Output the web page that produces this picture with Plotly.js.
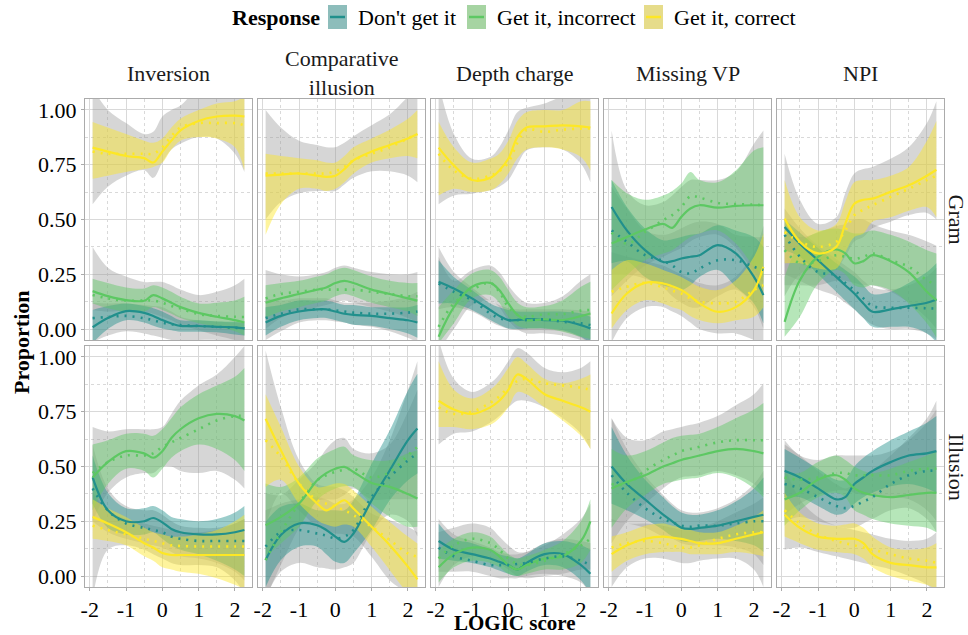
<!DOCTYPE html>
<html>
<head>
<meta charset="utf-8">
<script src="https://cdn.plot.ly/plotly-3.0.1.min.js"></script>
<style>
  html, body { margin: 0; padding: 0; background: #fff; }
  #chart { width: 968px; height: 635px; }
</style>
</head>
<body>
<div id="chart"></div>
<script>
// LOGIC score grid shared by every curve
const X = [-1.92, -1.5, -1, -0.5, -0.25, 0, 0.25, 0.5, 1, 1.5, 2, 2.26];

const RESPONSES = ["Don't get it", "Get it, incorrect", "Get it, correct"];
const CONSTRUCTIONS = ["Inversion", "Comparative<br>illusion", "Depth charge", "Missing VP", "NPI"];
const CONDITIONS = ["Gram", "Illusion"];
const X_TICKS = [-2, -1, 0, 1, 2];
const X_TICK_TEXT = ["-2", "-1", "0", "1", "2"];
const Y_TICKS = [0, 0.25, 0.5, 0.75, 1];
const Y_TICK_TEXT = ["0.00", "0.25", "0.50", "0.75", "1.00"];

// fit = model curve, lo/hi = model band, dot = smoothed observed, glo/ghi = its band
// ---- Gram ----
const gramInvDont = {
  fit: [0.008, 0.05, 0.082, 0.074, 0.06, 0.041, 0.025, 0.014, 0.014, 0.01, 0.008, 0.003],
  dot: [0.05, 0.055, 0.06, 0.049, 0.04, 0.029, 0.022, 0.018, 0.014, 0.01, 0.006, 0.003],
  hi:  [0.087, 0.105, 0.117, 0.105, 0.095, 0.08, 0.06, 0.04, 0.04, 0.035, 0.033, 0.026],
  lo:  [-0.065, 0.0, 0.04, 0.03, 0.015, 0.003, -0.005, -0.012, -0.012, -0.015, -0.025, -0.03],
  ghi: [0.12, 0.117, 0.117, 0.11, 0.105, 0.1, 0.08, 0.056, 0.04, 0.035, 0.03, 0.03],
  glo: [-0.06, -0.03, -0.01, -0.02, -0.03, -0.04, -0.05, -0.05, -0.05, -0.05, -0.06, -0.06]
};
const gramInvInc = {
  fit: [0.173, 0.15, 0.132, 0.129, 0.155, 0.14, 0.12, 0.10, 0.074, 0.056, 0.041, 0.03],
  dot: [0.155, 0.14, 0.13, 0.13, 0.13, 0.12, 0.105, 0.094, 0.068, 0.06, 0.056, 0.055],
  hi:  [0.23, 0.21, 0.19, 0.185, 0.2, 0.19, 0.17, 0.147, 0.117, 0.12, 0.13, 0.147],
  lo:  [0.117, 0.095, 0.079, 0.08, 0.10, 0.087, 0.07, 0.05, 0.026, 0.01, -0.01, -0.03],
  ghi: [0.375, 0.28, 0.24, 0.215, 0.215, 0.215, 0.2, 0.18, 0.155, 0.17, 0.2, 0.23],
  glo: [0.087, 0.08, 0.085, 0.08, 0.07, 0.056, 0.04, 0.02, -0.005, -0.03, -0.05, -0.06]
};
const gramInvCor = {
  fit: [0.828, 0.81, 0.79, 0.78, 0.76, 0.81, 0.86, 0.907, 0.95, 0.97, 0.974, 0.97],
  dot: [0.81, 0.80, 0.80, 0.80, 0.80, 0.83, 0.88, 0.92, 0.94, 0.94, 0.94, 0.93],
  hi:  [0.945, 0.92, 0.89, 0.86, 0.85, 0.87, 0.92, 0.96, 1.0, 1.03, 1.04, 1.06],
  lo:  [0.686, 0.70, 0.717, 0.73, 0.74, 0.76, 0.82, 0.86, 0.876, 0.87, 0.83, 0.724],
  ghi: [1.1, 1.0, 0.94, 0.89, 0.9, 0.97, 1.0, 1.02, 1.1, 1.12, 1.12, 1.12],
  glo: [0.57, 0.65, 0.70, 0.725, 0.69, 0.76, 0.82, 0.846, 0.876, 0.87, 0.80, 0.717]
};

const gramCompDont = {
  fit: [0.03, 0.06, 0.08, 0.09, 0.09, 0.08, 0.07, 0.065, 0.06, 0.05, 0.04, 0.03],
  dot: [0.05, 0.07, 0.09, 0.09, 0.09, 0.085, 0.08, 0.075, 0.07, 0.07, 0.075, 0.08],
  hi:  [0.10, 0.11, 0.13, 0.13, 0.13, 0.12, 0.11, 0.11, 0.10, 0.10, 0.10, 0.11],
  lo:  [-0.03, 0.01, 0.04, 0.05, 0.05, 0.04, 0.03, 0.02, 0.015, 0.0, -0.02, -0.04],
  ghi: [0.14, 0.13, 0.14, 0.14, 0.14, 0.13, 0.12, 0.12, 0.12, 0.13, 0.15, 0.17],
  glo: [-0.05, -0.01, 0.03, 0.04, 0.04, 0.035, 0.03, 0.02, 0.01, -0.01, -0.04, -0.06]
};
const gramCompInc = {
  fit: [0.12, 0.14, 0.16, 0.18, 0.19, 0.21, 0.22, 0.21, 0.18, 0.16, 0.14, 0.13],
  dot: [0.14, 0.16, 0.17, 0.18, 0.18, 0.18, 0.18, 0.18, 0.17, 0.16, 0.15, 0.15],
  hi:  [0.20, 0.21, 0.22, 0.24, 0.25, 0.27, 0.28, 0.27, 0.24, 0.22, 0.21, 0.21],
  lo:  [0.05, 0.08, 0.10, 0.12, 0.13, 0.15, 0.16, 0.15, 0.12, 0.10, 0.08, 0.06],
  ghi: [0.27, 0.25, 0.24, 0.25, 0.26, 0.28, 0.29, 0.28, 0.26, 0.25, 0.25, 0.26],
  glo: [0.0, 0.05, 0.08, 0.10, 0.11, 0.12, 0.13, 0.12, 0.10, 0.08, 0.05, 0.03]
};
const gramCompCor = {
  fit: [0.70, 0.705, 0.71, 0.70, 0.695, 0.70, 0.73, 0.77, 0.81, 0.84, 0.87, 0.89],
  dot: [0.71, 0.71, 0.71, 0.71, 0.71, 0.72, 0.74, 0.77, 0.80, 0.83, 0.87, 0.89],
  hi:  [0.80, 0.79, 0.78, 0.77, 0.76, 0.76, 0.79, 0.83, 0.87, 0.91, 0.96, 1.0],
  lo:  [0.43, 0.57, 0.64, 0.64, 0.63, 0.64, 0.67, 0.71, 0.76, 0.78, 0.79, 0.78],
  ghi: [1.0, 0.92, 0.86, 0.84, 0.83, 0.83, 0.85, 0.88, 0.93, 0.98, 1.06, 1.1],
  glo: [0.50, 0.58, 0.62, 0.63, 0.63, 0.63, 0.66, 0.69, 0.72, 0.72, 0.70, 0.67]
};

const gramDepthDont = {
  fit: [0.216, 0.185, 0.14, 0.087, 0.06, 0.041, 0.041, 0.045, 0.041, 0.038, 0.018, 0.003],
  dot: [0.208, 0.17, 0.132, 0.071, 0.05, 0.041, 0.041, 0.041, 0.044, 0.033, 0.026, 0.018],
  hi:  [0.314, 0.238, 0.178, 0.117, 0.1, 0.087, 0.08, 0.079, 0.079, 0.079, 0.071, 0.056],
  lo:  [0.117, 0.117, 0.087, 0.041, 0.02, 0.003, 0.0, 0.003, 0.003, -0.005, -0.035, -0.065],
  ghi: [0.375, 0.26, 0.19, 0.13, 0.11, 0.095, 0.09, 0.09, 0.09, 0.09, 0.085, 0.08],
  glo: [0.09, 0.1, 0.08, 0.035, 0.015, 0.0, -0.005, -0.005, -0.005, -0.01, -0.04, -0.07]
};
const gramDepthInc = {
  fit: [-0.035, 0.10, 0.193, 0.211, 0.178, 0.117, 0.064, 0.041, 0.044, 0.041, 0.059, 0.071],
  dot: [0.01, 0.117, 0.178, 0.211, 0.17, 0.10, 0.065, 0.056, 0.068, 0.068, 0.084, 0.087],
  hi:  [0.10, 0.178, 0.254, 0.27, 0.24, 0.178, 0.12, 0.10, 0.105, 0.132, 0.193, 0.216],
  lo:  [-0.065, 0.026, 0.14, 0.155, 0.12, 0.056, 0.015, 0.003, 0.003, -0.012, -0.035, -0.045],
  ghi: [0.33, 0.22, 0.27, 0.29, 0.26, 0.20, 0.15, 0.12, 0.12, 0.15, 0.22, 0.25],
  glo: [-0.1, 0.0, 0.11, 0.13, 0.10, 0.04, 0.0, -0.02, -0.02, -0.03, -0.05, -0.06]
};
const gramDepthCor = {
  fit: [0.828, 0.747, 0.68, 0.69, 0.724, 0.777, 0.876, 0.92, 0.925, 0.93, 0.925, 0.92],
  dot: [0.80, 0.724, 0.686, 0.70, 0.72, 0.76, 0.85, 0.91, 0.90, 0.91, 0.915, 0.915],
  hi:  [0.945, 0.83, 0.76, 0.777, 0.80, 0.86, 0.95, 0.99, 1.0, 1.0, 1.04, 1.04],
  lo:  [0.61, 0.64, 0.625, 0.633, 0.66, 0.71, 0.78, 0.82, 0.83, 0.82, 0.785, 0.724],
  ghi: [1.12, 0.89, 0.777, 0.785, 0.83, 0.906, 0.99, 1.01, 1.03, 1.06, 1.06, 1.06],
  glo: [0.57, 0.61, 0.618, 0.633, 0.65, 0.68, 0.75, 0.815, 0.83, 0.82, 0.755, 0.67]
};

const gramVpDont = {
  fit: [0.557, 0.45, 0.36, 0.306, 0.31, 0.322, 0.33, 0.337, 0.383, 0.345, 0.238, 0.155],
  dot: [0.45, 0.398, 0.337, 0.311, 0.29, 0.26, 0.254, 0.276, 0.314, 0.314, 0.284, 0.27],
  hi:  [0.68, 0.557, 0.459, 0.405, 0.41, 0.42, 0.43, 0.436, 0.474, 0.45, 0.42, 0.375],
  lo:  [0.3, 0.31, 0.238, 0.2, 0.19, 0.178, 0.2, 0.238, 0.27, 0.193, 0.117, 0.026],
  ghi: [0.65, 0.55, 0.45, 0.43, 0.44, 0.46, 0.48, 0.49, 0.48, 0.43, 0.42, 0.42],
  glo: [0.25, 0.25, 0.23, 0.19, 0.15, 0.12, 0.10, 0.10, 0.15, 0.18, 0.10, 0.0]
};
const gramVpInc = {
  fit: [0.39, 0.42, 0.454, 0.48, 0.462, 0.512, 0.55, 0.565, 0.554, 0.562, 0.565, 0.565],
  dot: [0.44, 0.39, 0.443, 0.497, 0.52, 0.557, 0.606, 0.60, 0.576, 0.57, 0.568, 0.565],
  hi:  [0.68, 0.62, 0.59, 0.61, 0.63, 0.664, 0.717, 0.68, 0.67, 0.724, 0.815, 0.83],
  lo:  [0.178, 0.246, 0.314, 0.345, 0.36, 0.39, 0.42, 0.436, 0.45, 0.39, 0.284, 0.238],
  ghi: [0.906, 0.633, 0.565, 0.58, 0.61, 0.648, 0.68, 0.68, 0.68, 0.717, 0.846, 0.906],
  glo: [0.15, 0.22, 0.29, 0.33, 0.35, 0.37, 0.40, 0.42, 0.43, 0.37, 0.26, 0.21]
};
const gramVpCor = {
  fit: [0.071, 0.162, 0.211, 0.208, 0.195, 0.178, 0.15, 0.117, 0.079, 0.10, 0.178, 0.284],
  dot: [0.17, 0.193, 0.211, 0.19, 0.175, 0.162, 0.14, 0.125, 0.117, 0.125, 0.178, 0.2],
  hi:  [0.27, 0.314, 0.3, 0.27, 0.255, 0.238, 0.215, 0.193, 0.178, 0.223, 0.33, 0.436],
  lo:  [0.003, 0.087, 0.132, 0.117, 0.1, 0.087, 0.06, 0.041, 0.026, 0.04, 0.056, 0.10],
  ghi: [0.35, 0.33, 0.31, 0.29, 0.27, 0.25, 0.23, 0.21, 0.2, 0.24, 0.35, 0.47],
  glo: [-0.06, 0.05, 0.10, 0.10, 0.08, 0.06, 0.03, 0.0, -0.02, -0.02, -0.05, -0.07]
};

const gramNpiDont = {
  fit: [0.466, 0.39, 0.314, 0.238, 0.2, 0.162, 0.117, 0.079, 0.09, 0.105, 0.12, 0.135],
  dot: [0.43, 0.33, 0.26, 0.246, 0.21, 0.178, 0.14, 0.105, 0.097, 0.097, 0.095, 0.093],
  hi:  [0.50, 0.44, 0.37, 0.30, 0.27, 0.24, 0.20, 0.16, 0.17, 0.21, 0.26, 0.30],
  lo:  [0.36, 0.33, 0.25, 0.17, 0.13, 0.09, 0.05, 0.01, 0.01, 0.01, -0.02, -0.06],
  ghi: [0.55, 0.46, 0.38, 0.32, 0.29, 0.26, 0.22, 0.19, 0.18, 0.2, 0.24, 0.28],
  glo: [0.25, 0.22, 0.18, 0.15, 0.12, 0.09, 0.05, 0.02, 0.0, 0.0, -0.02, -0.05]
};
const gramNpiInc = {
  fit: [0.033, 0.223, 0.33, 0.363, 0.345, 0.30, 0.31, 0.337, 0.31, 0.26, 0.17, 0.132],
  dot: [0.36, 0.30, 0.31, 0.337, 0.33, 0.32, 0.33, 0.345, 0.314, 0.284, 0.223, 0.2],
  hi:  [0.238, 0.39, 0.443, 0.459, 0.45, 0.436, 0.44, 0.45, 0.43, 0.40, 0.36, 0.345],
  lo:  [-0.035, 0.056, 0.208, 0.27, 0.25, 0.2, 0.19, 0.2, 0.178, 0.117, 0.026, -0.04],
  ghi: [0.45, 0.42, 0.44, 0.47, 0.48, 0.5, 0.5, 0.48, 0.45, 0.43, 0.40, 0.38],
  glo: [0.2, 0.2, 0.2, 0.22, 0.22, 0.21, 0.2, 0.2, 0.17, 0.12, 0.05, 0.0]
};
const gramNpiCor = {
  fit: [0.504, 0.398, 0.345, 0.375, 0.48, 0.572, 0.59, 0.595, 0.626, 0.656, 0.70, 0.727],
  dot: [0.443, 0.398, 0.375, 0.398, 0.45, 0.52, 0.545, 0.565, 0.603, 0.64, 0.68, 0.7],
  hi:  [0.68, 0.51, 0.45, 0.48, 0.58, 0.67, 0.68, 0.68, 0.70, 0.74, 0.86, 0.95],
  lo:  [0.3, 0.3, 0.276, 0.276, 0.35, 0.42, 0.436, 0.49, 0.51, 0.54, 0.557, 0.51],
  ghi: [0.80, 0.59, 0.48, 0.51, 0.62, 0.71, 0.73, 0.74, 0.777, 0.83, 0.94, 1.04],
  glo: [0.15, 0.25, 0.28, 0.28, 0.33, 0.40, 0.42, 0.46, 0.49, 0.52, 0.53, 0.5]
};

// ---- Illusion ----
const illInvDont = {
  fit: [0.45, 0.30, 0.25, 0.25, 0.265, 0.245, 0.215, 0.20, 0.19, 0.19, 0.20, 0.21],
  dot: [0.40, 0.30, 0.24, 0.22, 0.21, 0.20, 0.18, 0.17, 0.16, 0.16, 0.16, 0.16],
  hi:  [0.55, 0.38, 0.31, 0.31, 0.32, 0.30, 0.27, 0.26, 0.25, 0.26, 0.29, 0.32],
  lo:  [0.33, 0.22, 0.19, 0.19, 0.2, 0.17, 0.14, 0.12, 0.10, 0.07, 0.03, 0.0],
  ghi: [0.6, 0.4, 0.32, 0.3, 0.3, 0.28, 0.25, 0.23, 0.22, 0.22, 0.24, 0.26],
  glo: [0.25, 0.2, 0.17, 0.15, 0.14, 0.13, 0.11, 0.09, 0.08, 0.06, 0.02, -0.02]
};
const illInvInc = {
  fit: [0.45, 0.52, 0.57, 0.56, 0.54, 0.57, 0.63, 0.67, 0.72, 0.74, 0.73, 0.71],
  dot: [0.47, 0.52, 0.55, 0.55, 0.56, 0.59, 0.61, 0.63, 0.67, 0.71, 0.73, 0.73],
  hi:  [0.60, 0.62, 0.65, 0.65, 0.64, 0.67, 0.72, 0.77, 0.83, 0.87, 0.91, 0.95],
  lo:  [0.30, 0.42, 0.49, 0.48, 0.45, 0.49, 0.54, 0.57, 0.60, 0.58, 0.53, 0.48],
  ghi: [0.68, 0.66, 0.67, 0.67, 0.67, 0.68, 0.74, 0.80, 0.87, 0.92, 1.0, 1.05],
  glo: [0.25, 0.38, 0.45, 0.47, 0.47, 0.50, 0.50, 0.48, 0.47, 0.48, 0.44, 0.40]
};
const illInvCor = {
  fit: [0.27, 0.24, 0.20, 0.15, 0.13, 0.105, 0.096, 0.096, 0.096, 0.096, 0.096, 0.096],
  dot: [0.23, 0.21, 0.19, 0.17, 0.16, 0.15, 0.14, 0.137, 0.135, 0.135, 0.135, 0.135],
  hi:  [0.35, 0.31, 0.27, 0.22, 0.2, 0.19, 0.18, 0.18, 0.19, 0.21, 0.25, 0.28],
  lo:  [0.17, 0.16, 0.14, 0.09, 0.07, 0.04, 0.03, 0.02, 0.01, -0.01, -0.04, -0.06],
  ghi: [0.38, 0.3, 0.26, 0.24, 0.23, 0.22, 0.21, 0.2, 0.2, 0.21, 0.24, 0.26],
  glo: [-0.1, 0.12, 0.14, 0.12, 0.1, 0.08, 0.06, 0.05, 0.05, 0.04, -0.02, -0.08]
};

const illCompDont = {
  fit: [0.073, 0.187, 0.24, 0.232, 0.21, 0.18, 0.156, 0.194, 0.346, 0.483, 0.62, 0.673],
  dot: [0.134, 0.20, 0.21, 0.194, 0.185, 0.172, 0.18, 0.21, 0.361, 0.452, 0.528, 0.559],
  hi:  [0.247, 0.316, 0.331, 0.30, 0.30, 0.30, 0.30, 0.346, 0.513, 0.665, 0.847, 0.923],
  lo:  [-0.05, 0.073, 0.134, 0.134, 0.1, 0.065, 0.06, 0.103, 0.21, 0.346, 0.437, 0.468],
  ghi: [0.3, 0.33, 0.35, 0.36, 0.35, 0.33, 0.33, 0.35, 0.45, 0.62, 0.85, 0.98],
  glo: [-0.1, 0.02, 0.06, 0.04, 0.035, 0.03, 0.04, 0.06, 0.2, 0.28, 0.25, 0.18]
};
const illCompInc = {
  fit: [0.232, 0.27, 0.331, 0.437, 0.47, 0.49, 0.498, 0.475, 0.425, 0.407, 0.374, 0.354],
  dot: [0.073, 0.20, 0.331, 0.437, 0.46, 0.475, 0.485, 0.49, 0.45, 0.475, 0.551, 0.589],
  hi:  [0.422, 0.407, 0.45, 0.536, 0.56, 0.58, 0.59, 0.551, 0.528, 0.528, 0.56, 0.574],
  lo:  [0.088, 0.149, 0.225, 0.346, 0.38, 0.40, 0.41, 0.407, 0.331, 0.27, 0.225, 0.225],
  ghi: [0.38, 0.37, 0.44, 0.52, 0.58, 0.62, 0.63, 0.58, 0.56, 0.6, 0.75, 0.85],
  glo: [-0.1, 0.05, 0.22, 0.34, 0.35, 0.35, 0.37, 0.4, 0.35, 0.35, 0.35, 0.35]
};
const illCompCor = {
  fit: [0.718, 0.574, 0.422, 0.331, 0.30, 0.323, 0.346, 0.308, 0.225, 0.141, 0.043, -0.015],
  dot: [0.62, 0.544, 0.422, 0.346, 0.33, 0.316, 0.30, 0.278, 0.225, 0.164, 0.103, 0.088],
  hi:  [0.83, 0.68, 0.50, 0.407, 0.41, 0.422, 0.42, 0.39, 0.316, 0.247, 0.18, 0.149],
  lo:  [0.407, 0.44, 0.331, 0.255, 0.235, 0.225, 0.235, 0.225, 0.134, 0.027, -0.08, -0.12],
  ghi: [1.03, 0.77, 0.53, 0.42, 0.41, 0.407, 0.39, 0.36, 0.285, 0.255, 0.225, 0.2],
  glo: [0.225, 0.377, 0.30, 0.225, 0.21, 0.194, 0.19, 0.18, 0.088, -0.02, -0.08, -0.12]
};

const illDepthDont = {
  fit: [0.16, 0.12, 0.10, 0.08, 0.065, 0.05, 0.03, 0.06, 0.10, 0.10, 0.05, 0.01],
  dot: [0.13, 0.09, 0.07, 0.05, 0.05, 0.05, 0.055, 0.06, 0.08, 0.09, 0.07, 0.05],
  hi:  [0.24, 0.17, 0.15, 0.12, 0.10, 0.09, 0.08, 0.10, 0.15, 0.16, 0.14, 0.12],
  lo:  [0.08, 0.07, 0.06, 0.04, 0.025, 0.01, 0.0, 0.02, 0.05, 0.04, -0.02, -0.08],
  ghi: [0.26, 0.19, 0.16, 0.13, 0.11, 0.10, 0.10, 0.11, 0.15, 0.17, 0.16, 0.15],
  glo: [0.02, 0.02, 0.02, 0.0, -0.01, -0.01, -0.01, 0.0, 0.01, 0.0, -0.03, -0.08]
};
const illDepthInc = {
  fit: [0.04, 0.10, 0.13, 0.12, 0.09, 0.05, 0.03, 0.05, 0.08, 0.09, 0.16, 0.25],
  dot: [0.08, 0.14, 0.17, 0.15, 0.12, 0.08, 0.055, 0.05, 0.07, 0.10, 0.14, 0.17],
  hi:  [0.12, 0.17, 0.20, 0.18, 0.14, 0.10, 0.08, 0.09, 0.12, 0.16, 0.25, 0.35],
  lo:  [-0.03, 0.04, 0.07, 0.06, 0.04, 0.01, 0.0, 0.01, 0.03, 0.03, 0.06, 0.12],
  ghi: [0.2, 0.22, 0.24, 0.22, 0.18, 0.14, 0.11, 0.11, 0.14, 0.19, 0.26, 0.33],
  glo: [-0.05, 0.05, 0.09, 0.08, 0.06, 0.03, 0.0, -0.01, 0.0, 0.01, 0.03, 0.03]
};
const illDepthCor = {
  fit: [0.80, 0.76, 0.74, 0.77, 0.80, 0.85, 0.92, 0.90, 0.83, 0.80, 0.77, 0.75],
  dot: [0.77, 0.74, 0.75, 0.79, 0.82, 0.86, 0.89, 0.90, 0.88, 0.87, 0.86, 0.85],
  hi:  [0.98, 0.85, 0.81, 0.85, 0.89, 0.95, 1.0, 0.97, 0.90, 0.88, 0.90, 0.92],
  lo:  [0.68, 0.68, 0.67, 0.69, 0.72, 0.77, 0.84, 0.83, 0.77, 0.71, 0.64, 0.58],
  ghi: [1.08, 0.9, 0.84, 0.88, 0.92, 0.98, 1.04, 1.02, 0.95, 0.93, 0.95, 0.98],
  glo: [0.6, 0.65, 0.66, 0.7, 0.73, 0.77, 0.8, 0.8, 0.77, 0.72, 0.65, 0.58]
};

const illVpDont = {
  fit: [0.50, 0.42, 0.35, 0.28, 0.25, 0.22, 0.215, 0.22, 0.23, 0.25, 0.27, 0.28],
  dot: [0.46, 0.38, 0.31, 0.26, 0.245, 0.23, 0.225, 0.23, 0.23, 0.24, 0.25, 0.25],
  hi:  [0.68, 0.55, 0.44, 0.36, 0.32, 0.29, 0.28, 0.28, 0.30, 0.34, 0.40, 0.45],
  lo:  [0.33, 0.30, 0.26, 0.21, 0.18, 0.16, 0.155, 0.16, 0.17, 0.16, 0.14, 0.11],
  ghi: [0.72, 0.58, 0.46, 0.37, 0.33, 0.30, 0.29, 0.29, 0.31, 0.35, 0.42, 0.48],
  glo: [0.25, 0.24, 0.22, 0.18, 0.17, 0.15, 0.14, 0.14, 0.14, 0.13, 0.1, 0.05]
};
const illVpInc = {
  fit: [0.40, 0.43, 0.46, 0.50, 0.515, 0.53, 0.54, 0.55, 0.57, 0.58, 0.57, 0.56],
  dot: [0.42, 0.42, 0.48, 0.53, 0.55, 0.57, 0.58, 0.59, 0.61, 0.62, 0.62, 0.62],
  hi:  [0.58, 0.55, 0.57, 0.61, 0.63, 0.64, 0.645, 0.65, 0.68, 0.72, 0.76, 0.79],
  lo:  [0.22, 0.31, 0.37, 0.42, 0.43, 0.44, 0.445, 0.45, 0.47, 0.45, 0.40, 0.36],
  ghi: [0.72, 0.63, 0.62, 0.66, 0.67, 0.68, 0.69, 0.70, 0.73, 0.78, 0.83, 0.88],
  glo: [0.15, 0.25, 0.33, 0.40, 0.43, 0.45, 0.455, 0.46, 0.48, 0.46, 0.42, 0.37]
};
const illVpCor = {
  fit: [0.10, 0.14, 0.17, 0.18, 0.175, 0.17, 0.16, 0.15, 0.15, 0.17, 0.19, 0.20],
  dot: [0.13, 0.15, 0.16, 0.15, 0.14, 0.13, 0.13, 0.14, 0.17, 0.19, 0.20, 0.20],
  hi:  [0.18, 0.20, 0.23, 0.24, 0.23, 0.22, 0.21, 0.20, 0.20, 0.23, 0.27, 0.30],
  lo:  [0.02, 0.07, 0.10, 0.11, 0.11, 0.11, 0.10, 0.10, 0.10, 0.11, 0.10, 0.09],
  ghi: [0.26, 0.24, 0.24, 0.23, 0.22, 0.21, 0.21, 0.22, 0.25, 0.29, 0.33, 0.36],
  glo: [-0.05, 0.04, 0.08, 0.08, 0.07, 0.06, 0.06, 0.07, 0.08, 0.08, 0.03, -0.05]
};

const illNpiDont = {
  fit: [0.48, 0.45, 0.40, 0.35, 0.36, 0.42, 0.45, 0.48, 0.52, 0.55, 0.56, 0.57],
  dot: [0.42, 0.40, 0.36, 0.32, 0.31, 0.32, 0.34, 0.36, 0.42, 0.46, 0.48, 0.48],
  hi:  [0.58, 0.54, 0.49, 0.44, 0.44, 0.5, 0.54, 0.57, 0.62, 0.66, 0.70, 0.73],
  lo:  [0.36, 0.36, 0.32, 0.28, 0.29, 0.33, 0.36, 0.38, 0.41, 0.42, 0.40, 0.38],
  ghi: [0.6, 0.55, 0.48, 0.42, 0.4, 0.42, 0.45, 0.48, 0.55, 0.63, 0.72, 0.8],
  glo: [0.25, 0.27, 0.25, 0.23, 0.22, 0.22, 0.24, 0.26, 0.30, 0.31, 0.26, 0.2]
};
const illNpiInc = {
  fit: [0.35, 0.38, 0.44, 0.46, 0.44, 0.40, 0.38, 0.37, 0.36, 0.37, 0.38, 0.38],
  dot: [0.45, 0.44, 0.45, 0.47, 0.47, 0.46, 0.46, 0.46, 0.46, 0.48, 0.49, 0.49],
  hi:  [0.47, 0.47, 0.52, 0.55, 0.53, 0.50, 0.48, 0.47, 0.49, 0.52, 0.55, 0.57],
  lo:  [0.23, 0.30, 0.36, 0.38, 0.36, 0.30, 0.28, 0.26, 0.24, 0.23, 0.22, 0.2],
  ghi: [0.62, 0.55, 0.53, 0.55, 0.55, 0.55, 0.55, 0.55, 0.57, 0.62, 0.7, 0.76],
  glo: [0.28, 0.33, 0.37, 0.39, 0.39, 0.38, 0.37, 0.37, 0.36, 0.35, 0.3, 0.25]
};
const illNpiCor = {
  fit: [0.28, 0.22, 0.18, 0.17, 0.17, 0.17, 0.15, 0.10, 0.06, 0.05, 0.04, 0.04],
  dot: [0.30, 0.24, 0.19, 0.16, 0.15, 0.14, 0.13, 0.12, 0.10, 0.08, 0.07, 0.06],
  hi:  [0.38, 0.29, 0.24, 0.23, 0.235, 0.24, 0.22, 0.18, 0.13, 0.12, 0.13, 0.15],
  lo:  [0.18, 0.15, 0.12, 0.11, 0.105, 0.10, 0.08, 0.04, 0.0, -0.02, -0.04, -0.06],
  ghi: [0.5, 0.35, 0.27, 0.23, 0.22, 0.21, 0.2, 0.19, 0.17, 0.16, 0.17, 0.2],
  glo: [0.12, 0.13, 0.11, 0.09, 0.08, 0.07, 0.06, 0.05, 0.03, 0.0, -0.04, -0.08]
};

// panel order: row-major, Gram row then Illusion row
const PANELS = [
  [gramInvDont, gramInvInc, gramInvCor],
  [gramCompDont, gramCompInc, gramCompCor],
  [gramDepthDont, gramDepthInc, gramDepthCor],
  [gramVpDont, gramVpInc, gramVpCor],
  [gramNpiDont, gramNpiInc, gramNpiCor],
  [illInvDont, illInvInc, illInvCor],
  [illCompDont, illCompInc, illCompCor],
  [illDepthDont, illDepthInc, illDepthCor],
  [illVpDont, illVpInc, illVpCor],
  [illNpiDont, illNpiInc, illNpiCor]
];

// ---- styling ----
const W = 968, H = 635;
const FONT = "Liberation Serif, Times New Roman, serif";
const LINE_COLORS = ["#21908C", "#5DC863", "#FDE725"];
const BAND_COLORS = ["rgba(33,144,140,0.45)", "rgba(93,200,99,0.45)", "rgba(253,231,37,0.45)"];
const KEY_COLORS = ["#8dbdbb", "#a6d4a2", "#e6dc8a"];
const GREY_BAND = "rgba(153,153,153,0.4)";
const PANEL_W = 167, PANEL_H = 241, COL_STEP = 173;
const PANEL_LEFT = 85, ROW_TOP = [99, 346];

const px = v => v / W;
const py = v => 1 - v / H;

const traces = [];
const layout = {
  width: W, height: H,
  margin: { l: 0, r: 0, t: 0, b: 0 },
  paper_bgcolor: "#fff", plot_bgcolor: "#fff",
  showlegend: false,
  font: { family: FONT, size: 22, color: "#000" },
  annotations: [], shapes: []
};

PANELS.forEach((series, k) => {
  const r = Math.floor(k / 5), c = k % 5;
  const sfx = k === 0 ? "" : String(k + 1);
  const xa = "x" + sfx, ya = "y" + sfx;
  const left = PANEL_LEFT + COL_STEP * c, top = ROW_TOP[r];

  layout["xaxis" + sfx] = {
    domain: [px(left), px(left + PANEL_W)], anchor: ya,
    range: [-2.13, 2.47], fixedrange: true,
    showline: true, mirror: true, linecolor: "#ababab", linewidth: 1,
    zeroline: false, showgrid: true, gridcolor: "#d9d9d9", gridwidth: 1,
    tickmode: "array", tickvals: X_TICKS, ticktext: X_TICK_TEXT,
    ticks: r === 1 ? "outside" : "", ticklen: 3, tickcolor: "#ababab",
    showticklabels: r === 1,
    tickfont: { family: FONT, size: 22, color: "#000" },
    minor: { tickmode: "array", tickvals: [-1.5, -0.5, 0.5, 1.5], showgrid: true,
             gridcolor: "#d9d9d9", griddash: "dot", gridwidth: 1, ticks: "" }
  };
  layout["yaxis" + sfx] = {
    domain: [py(top + PANEL_H), py(top)], anchor: xa,
    range: [-0.05, 1.05], fixedrange: true,
    showline: true, mirror: true, linecolor: "#ababab", linewidth: 1,
    zeroline: false, showgrid: true, gridcolor: "#d9d9d9", gridwidth: 1,
    tickmode: "array", tickvals: Y_TICKS, ticktext: Y_TICK_TEXT,
    ticks: c === 0 ? "outside" : "", ticklen: 3, tickcolor: "#ababab",
    showticklabels: c === 0,
    tickfont: { family: FONT, size: 22, color: "#000" },
    minor: { tickmode: "array", tickvals: [0.125, 0.375, 0.625, 0.875], showgrid: true,
             gridcolor: "#d9d9d9", griddash: "dot", gridwidth: 1, ticks: "" }
  };

  const base = { x: X, xaxis: xa, yaxis: ya, mode: "lines", hoverinfo: "skip", showlegend: false };
  // grey bands of the smoothed observed proportions
  series.forEach(s => {
    traces.push(Object.assign({}, base, { y: s.glo, line: { width: 0, shape: "spline" } }));
    traces.push(Object.assign({}, base, { y: s.ghi, fill: "tonexty", fillcolor: GREY_BAND,
      line: { width: 0, shape: "spline" } }));
  });
  // model confidence bands
  series.forEach((s, i) => {
    traces.push(Object.assign({}, base, { y: s.lo, line: { width: 0, shape: "spline" } }));
    traces.push(Object.assign({}, base, { y: s.hi, fill: "tonexty", fillcolor: BAND_COLORS[i],
      line: { width: 0, shape: "spline" } }));
  });
  // model curves
  series.forEach((s, i) => {
    traces.push(Object.assign({}, base, { y: s.fit, name: RESPONSES[i],
      line: { color: LINE_COLORS[i], width: 2.2, shape: "spline" } }));
  });
  // observed smooths (dotted)
  series.forEach((s, i) => {
    traces.push(Object.assign({}, base, { y: s.dot, name: RESPONSES[i],
      line: { color: LINE_COLORS[i], width: 2.6, dash: "2px,6px", shape: "spline" } }));
  });
});

// facet strips: constructions on top, conditions on the right
CONSTRUCTIONS.forEach((name, c) => {
  layout.annotations.push({
    text: name, xref: "paper", yref: "paper", showarrow: false,
    x: px(PANEL_LEFT + COL_STEP * c + PANEL_W / 2), y: py(73),
    xanchor: "center", yanchor: "middle",
    font: { family: FONT, size: 22, color: "#1a1a1a" }
  });
});
CONDITIONS.forEach((name, r) => {
  layout.annotations.push({
    text: name, xref: "paper", yref: "paper", showarrow: false, textangle: 90,
    x: px(956), y: py(ROW_TOP[r] + PANEL_H / 2),
    xanchor: "center", yanchor: "middle",
    font: { family: FONT, size: 22, color: "#1a1a1a" }
  });
});

// axis titles
layout.annotations.push({
  text: "<b>LOGIC score</b>", xref: "paper", yref: "paper", showarrow: false,
  x: px(515), y: py(623), xanchor: "center", yanchor: "middle",
  font: { family: FONT, size: 21, color: "#000" }
});
layout.annotations.push({
  text: "<b>Proportion</b>", xref: "paper", yref: "paper", showarrow: false, textangle: -90,
  x: px(22), y: py(343), xanchor: "center", yanchor: "middle",
  font: { family: FONT, size: 22, color: "#000" }
});

// legend across the top
layout.annotations.push({
  text: "<b>Response</b>", xref: "paper", yref: "paper", showarrow: false,
  x: px(322), y: py(17), xanchor: "right", yanchor: "middle",
  font: { family: FONT, size: 22, color: "#000" }
});
const KEY_X = [328, 467, 644];
RESPONSES.forEach((name, i) => {
  const kx = KEY_X[i];
  layout.shapes.push({
    type: "rect", xref: "paper", yref: "paper",
    x0: px(kx), x1: px(kx + 19), y0: py(29), y1: py(5),
    fillcolor: KEY_COLORS[i], line: { width: 0 }
  });
  layout.shapes.push({
    type: "line", xref: "paper", yref: "paper",
    x0: px(kx + 2), x1: px(kx + 17), y0: py(17), y1: py(17),
    line: { color: LINE_COLORS[i], width: 2.5 }
  });
  layout.annotations.push({
    text: name, xref: "paper", yref: "paper", showarrow: false,
    x: px(kx + 28), y: py(17), xanchor: "left", yanchor: "middle",
    font: { family: FONT, size: 22, color: "#000" }
  });
});

Plotly.newPlot("chart", traces, layout, { staticPlot: true, displayModeBar: false });
</script>
</body>
</html>
